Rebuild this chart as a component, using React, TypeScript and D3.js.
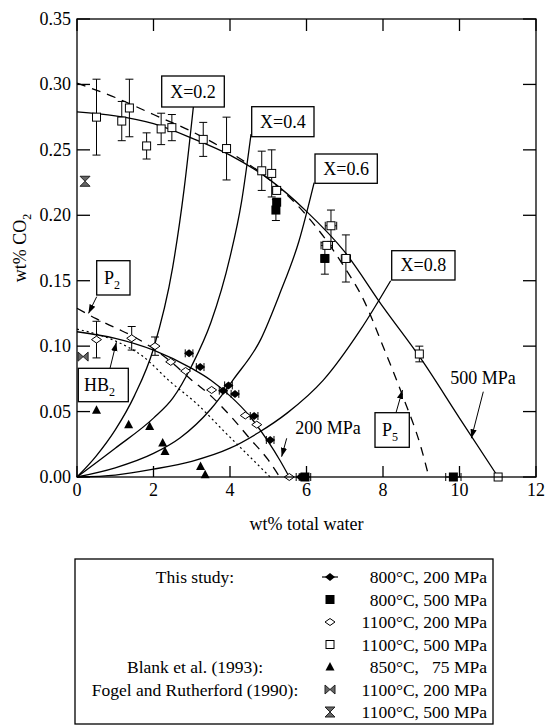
import * as d3 from "d3";

// 1100°C, 500 MPa (open squares): [water, CO2, ±CO2, ±water]
const sq1100_500 = [
  [0.51, 0.275, 0.029, 0], [1.17, 0.272, 0.015, 0], [1.37, 0.282, 0.022, 0],
  [1.82, 0.253, 0.01, 0], [2.2, 0.266, 0.012, 0], [2.48, 0.267, 0.01, 0],
  [3.3, 0.258, 0.013, 0], [3.91, 0.251, 0.024, 0], [4.83, 0.234, 0.015, 0],
  [5.09, 0.232, 0.018, 0], [5.22, 0.219, 0, 0.1], [6.64, 0.192, 0.012, 0.15],
  [6.53, 0.177, 0, 0.15], [7.03, 0.167, 0.018, 0.12], [8.95, 0.094, 0.006, 0],
  [11.01, 0, 0, 0],
];
// 800°C, 500 MPa (filled squares)
const sq800_500 = [
  [5.22, 0.21, 0, 0.08], [5.2, 0.204, 0.008, 0.08], [6.48, 0.167, 0.012, 0.1],
  [5.96, 0, 0, 0.15], [9.84, 0, 0, 0.2],
];
// 800°C, 200 MPa (filled diamonds)
const dia800_200 = [
  [2.93, 0.0945, 0, 0.1], [3.22, 0.084, 0, 0.1], [3.96, 0.07, 0, 0.1],
  [3.82, 0.066, 0, 0.1], [4.13, 0.0635, 0, 0.1], [4.63, 0.0466, 0, 0.1],
  [5.05, 0.0283, 0, 0.1], [5.85, 0, 0, 0.12],
];
// 1100°C, 200 MPa (open diamonds)
const dia1100_200 = [
  [0.51, 0.105, 0.014, 0], [1.43, 0.106, 0.009, 0], [2.04, 0.1, 0.007, 0],
  [2.45, 0.088, 0, 0], [2.84, 0.081, 0, 0], [3.52, 0.0665, 0, 0],
  [4.4, 0.047, 0, 0], [4.7, 0.04, 0, 0], [5.55, 0, 0, 0],
];
// Blank et al. (1993) 850°C, 75 MPa
const blank = [
  [0.51, 0.051], [1.35, 0.04], [1.9, 0.0385], [2.24, 0.026], [2.3, 0.0195],
  [3.23, 0.008], [3.35, 0.0018],
];
const fogel200 = [[0.16, 0.092]];
const fogel500 = [[0.21, 0.226]];

// curves
const mpa500 = [[0, 0.279], [1, 0.276], [2, 0.27], [3, 0.259], [4, 0.246], [5, 0.228], [6, 0.203], [7, 0.172], [8, 0.13], [9, 0.09], [10, 0.045], [11.01, 0]];
const mpa200 = [[0, 0.111], [1, 0.106], [2, 0.097], [3, 0.083], [3.5, 0.074], [4, 0.062], [4.5, 0.047], [5, 0.027], [5.3, 0.013], [5.55, 0]];
const p5 = [[0, 0.301], [1, 0.29], [2, 0.277], [3, 0.264], [4, 0.248], [5, 0.228], [6, 0.2], [7, 0.16], [7.5, 0.135], [8, 0.1], [8.5, 0.063], [9, 0.022], [9.2, 0]];
const p2 = [[0, 0.129], [0.5, 0.121], [1, 0.114], [1.5, 0.107], [2, 0.098], [2.5, 0.087], [3, 0.074], [3.5, 0.062], [4, 0.047], [4.5, 0.03], [5, 0.013], [5.3, 0]];
const hb2 = [[0, 0.113], [1, 0.104], [1.73, 0.092], [2.43, 0.073], [3.13, 0.056], [3.91, 0.033], [4.5, 0.016], [5.05, 0]];
const x02 = [[0, 0], [0.5, 0.016], [1, 0.036], [1.5, 0.062], [2, 0.098], [2.5, 0.16], [2.8, 0.22], [3.05, 0.285]];
const x04 = [[0, 0], [1, 0.022], [2, 0.045], [2.5, 0.06], [3, 0.085], [3.5, 0.118], [4, 0.168], [4.3, 0.21], [4.55, 0.262]];
const x06 = [[0, 0], [1, 0.007], [2, 0.018], [2.7, 0.03], [3.5, 0.052], [4.1, 0.075], [4.8, 0.105], [5.3, 0.14], [5.8, 0.18], [6.2, 0.225]];
const x08 = [[0, 0], [1, 0.0015], [2, 0.006], [3, 0.012], [4, 0.022], [4.75, 0.034], [5.5, 0.049], [6.44, 0.074], [7.4, 0.112], [8.2, 0.15]];

const xTicks = [0, 2, 4, 6, 8, 10, 12];
const yTicks = [0, 0.05, 0.1, 0.15, 0.2, 0.25, 0.3, 0.35];

const legendRows = [
  { group: "This study:", sym: "dia800", text: "800°C, 200 MPa" },
  { group: "", sym: "sq800", text: "800°C, 500 MPa" },
  { group: "", sym: "dia1100", text: "1100°C, 200 MPa" },
  { group: "", sym: "sq1100", text: "1100°C, 500 MPa" },
  { group: "Blank et al. (1993):", sym: "tri", text: "850°C,   75 MPa" },
  { group: "Fogel and Rutherford (1990):", sym: "bow", text: "1100°C, 200 MPa" },
  { group: "", sym: "hour", text: "1100°C, 500 MPa" },
];

const FONT = "'Liberation Serif', 'DejaVu Serif', serif";

function Symbol({ kind, x, y }: { kind: string; x: number; y: number }) {
  const t = `translate(${x},${y})`;
  switch (kind) {
    case "sq1100":
      return <rect x={x - 4} y={y - 4} width={8} height={8} fill="white" stroke="black" strokeWidth={1} />;
    case "sq800":
      return <rect x={x - 4.5} y={y - 4.5} width={9} height={9} fill="black" />;
    case "dia1100":
      return <path transform={t} d="M0,-3.5L5,0L0,3.5L-5,0Z" fill="white" stroke="black" strokeWidth={1} />;
    case "dia800":
      return <path transform={t} d="M0,-4L5,0L0,4L-5,0Z" fill="black" />;
    case "tri":
      return <path transform={t} d="M0,-5L4.5,3.5L-4.5,3.5Z" fill="black" />;
    case "bow":
      return <path transform={t} d="M-5,-4.5L-5,4.5L5,-4.5L5,4.5Z" fill="#666" stroke="#222" strokeWidth={1} />;
    case "hour":
      return <path transform={t} d="M-5,-5L5,-5L-5,5L5,5Z" fill="#666" stroke="#222" strokeWidth={1} />;
  }
  return null;
}

export default function App() {
  const W = 548, H = 726;
  const xs = d3.scaleLinear().domain([0, 12]).range([77, 536]);
  const ys = d3.scaleLinear().domain([0, 0.35]).range([477, 19]);
  const line = d3
    .line<number[]>()
    .x((d) => xs(d[0]))
    .y((d) => ys(d[1]))
    .curve(d3.curveMonotoneX);

  const errBars = (data: number[][], key: string) =>
    data.map((d, i) => {
      const cx = xs(d[0]), cy = ys(d[1]);
      const out: JSX.Element[] = [];
      if (d[2] > 0) {
        const y1 = ys(d[1] + d[2]), y2 = ys(Math.max(0, d[1] - d[2]));
        out.push(
          <g key={`${key}v${i}`} stroke="black" strokeWidth={1}>
            <line x1={cx} x2={cx} y1={y1} y2={y2} />
            <line x1={cx - 4} x2={cx + 4} y1={y1} y2={y1} />
            <line x1={cx - 4} x2={cx + 4} y1={y2} y2={y2} />
          </g>
        );
      }
      if (d[3] > 0) {
        const x1 = xs(d[0] - d[3]), x2 = xs(d[0] + d[3]);
        out.push(
          <g key={`${key}h${i}`} stroke="black" strokeWidth={1}>
            <line x1={x1} x2={x2} y1={cy} y2={cy} />
            <line x1={x1} x2={x1} y1={cy - 4} y2={cy + 4} />
            <line x1={x2} x2={x2} y1={cy - 4} y2={cy + 4} />
          </g>
        );
      }
      return out;
    });

  const boxes = [
    { label: "X=0.2", x: 161.7, y: 76, w: 62.6, h: 31 },
    { label: "X=0.4", x: 251.7, y: 106.7, w: 62.3, h: 30 },
    { label: "X=0.6", x: 315, y: 154, w: 62.3, h: 29.3 },
    { label: "X=0.8", x: 391.7, y: 250.7, w: 63.3, h: 29.3 },
  ];

  const arrows = [
    { from: [96.7, 296.7], to: [0.3, 0.125] },
    { from: [110, 368.3], to: [1.03, 0.103] },
    { from: [396, 412.7], to: [8.51, 0.0665] },
    { from: [483.3, 391.7], to: [10.31, 0.0296] },
    { from: [286.7, 438.3], to: [5.35, 0.0155] },
  ];

  const legTop = 559;
  const rowY = (i: number) => 577 + i * 22.5;

  return (
    <svg width={W} height={H} style={{ position: "absolute", left: 0, top: 0, background: "white" }} fontFamily={FONT}>
      <defs>
        <marker id="ah" viewBox="0 0 10 10" refX="10" refY="5" markerWidth="9" markerHeight="9" orient="auto" markerUnits="userSpaceOnUse">
          <path d="M0,1.5L10,5L0,8.5Z" fill="black" />
        </marker>
      </defs>

      {/* curves */}
      <g fill="none" stroke="black" strokeWidth={1.3}>
        <path d={line(mpa500) ?? ""} />
        <path d={line(mpa200) ?? ""} />
        <path d={line(p5) ?? ""} strokeDasharray="9,7" />
        <path d={line(p2) ?? ""} strokeDasharray="9,7" />
        <path d={line(hb2) ?? ""} strokeDasharray="2,3" strokeWidth={1.2} />
        <path d={line(x02) ?? ""} />
        <path d={line(x04) ?? ""} />
        <path d={line(x06) ?? ""} />
        <path d={line(x08) ?? ""} />
      </g>

      {/* error bars */}
      {errBars(sq1100_500, "a")}
      {errBars(sq800_500, "b")}
      {errBars(dia800_200, "c")}
      {errBars(dia1100_200, "d")}

      {/* symbols */}
      {sq1100_500.map((d, i) => <Symbol key={`s1${i}`} kind="sq1100" x={xs(d[0])} y={ys(d[1])} />)}
      {sq800_500.map((d, i) => <Symbol key={`s2${i}`} kind="sq800" x={xs(d[0])} y={ys(d[1])} />)}
      {dia800_200.map((d, i) => <Symbol key={`s3${i}`} kind="dia800" x={xs(d[0])} y={ys(d[1])} />)}
      {dia1100_200.map((d, i) => <Symbol key={`s4${i}`} kind="dia1100" x={xs(d[0])} y={ys(d[1])} />)}
      {blank.map((d, i) => <Symbol key={`s5${i}`} kind="tri" x={xs(d[0])} y={ys(d[1])} />)}
      {fogel200.map((d, i) => <Symbol key={`s6${i}`} kind="bow" x={xs(d[0])} y={ys(d[1])} />)}
      {fogel500.map((d, i) => <Symbol key={`s7${i}`} kind="hour" x={xs(d[0])} y={ys(d[1])} />)}

      {/* X boxes */}
      {boxes.map((b) => (
        <g key={b.label}>
          <rect x={b.x} y={b.y} width={b.w} height={b.h} fill="white" stroke="black" strokeWidth={1.3} />
          <text x={b.x + b.w / 2} y={b.y + b.h / 2 + 6} textAnchor="middle" fontSize={18}>{b.label}</text>
        </g>
      ))}

      {/* P2, HB2, P5 boxes */}
      <rect x={96.7} y={260.7} width={33.3} height={34.3} fill="white" stroke="black" strokeWidth={1.3} />
      <text x={104} y={284} fontSize={18}>P<tspan fontSize={12} dy={5}>2</tspan></text>
      <rect x={78.3} y={368.3} width={50} height={33.4} fill="white" stroke="black" strokeWidth={1.3} />
      <text x={84} y={391} fontSize={18}>HB<tspan fontSize={12} dy={5}>2</tspan></text>
      <rect x={375} y={412.7} width={34.3} height={34.6} fill="white" stroke="black" strokeWidth={1.3} />
      <text x={382} y={436} fontSize={18}>P<tspan fontSize={12} dy={5}>5</tspan></text>

      <text x={483} y={384} textAnchor="middle" fontSize={18}>500 MPa</text>
      <text x={328} y={434} textAnchor="middle" fontSize={18}>200 MPa</text>

      {arrows.map((a, i) => (
        <line key={`ar${i}`} x1={a.from[0]} y1={a.from[1]} x2={xs(a.to[0])} y2={ys(a.to[1])} stroke="black" strokeWidth={1} markerEnd="url(#ah)" />
      ))}

      {/* frame and ticks */}
      <rect x={xs(0)} y={ys(0.35)} width={xs(12) - xs(0)} height={ys(0) - ys(0.35)} fill="none" stroke="black" strokeWidth={1.3} />
      <g stroke="black" strokeWidth={1.3}>
        {xTicks.map((t) => (
          <g key={`xt${t}`}>
            <line x1={xs(t)} x2={xs(t)} y1={ys(0)} y2={ys(0) - 11} />
            <line x1={xs(t)} x2={xs(t)} y1={ys(0.35)} y2={ys(0.35) + 12} />
          </g>
        ))}
        {yTicks.map((t) => (
          <g key={`yt${t}`}>
            <line x1={xs(0)} x2={xs(0) + 13} y1={ys(t)} y2={ys(t)} />
            <line x1={xs(12)} x2={xs(12) - 13} y1={ys(t)} y2={ys(t)} />
          </g>
        ))}
      </g>
      <g fontSize={18}>
        {xTicks.map((t) => (
          <text key={`xl${t}`} x={xs(t)} y={ys(0) + 19} textAnchor="middle">{t}</text>
        ))}
        {yTicks.map((t) => (
          <text key={`yl${t}`} x={xs(0) - 6} y={ys(t) + 6} textAnchor="end">{t.toFixed(2)}</text>
        ))}
      </g>
      <text x={(xs(0) + xs(12)) / 2} y={530} textAnchor="middle" fontSize={18}>wt% total water</text>
      <text transform={`translate(26,${(ys(0) + ys(0.35)) / 2}) rotate(-90)`} textAnchor="middle" fontSize={18}>
        wt% CO<tspan fontSize={12} dy={5}>2</tspan>
      </text>

      {/* legend */}
      <rect x={75} y={legTop} width={418} height={165} fill="white" stroke="black" strokeWidth={1.3} />
      {legendRows.map((r, i) => (
        <g key={`lg${i}`} fontSize={17.5}>
          {r.group && <text x={195} y={rowY(i) + 6} textAnchor="middle">{r.group}</text>}
          {r.sym === "dia800" && <line x1={322} x2={338} y1={rowY(i)} y2={rowY(i)} stroke="black" strokeWidth={1.2} />}
          <Symbol kind={r.sym} x={330} y={rowY(i)} />
          <text x={487} y={rowY(i) + 6} textAnchor="end" style={{ whiteSpace: "pre" }}>{r.text}</text>
        </g>
      ))}
    </svg>
  );
}
